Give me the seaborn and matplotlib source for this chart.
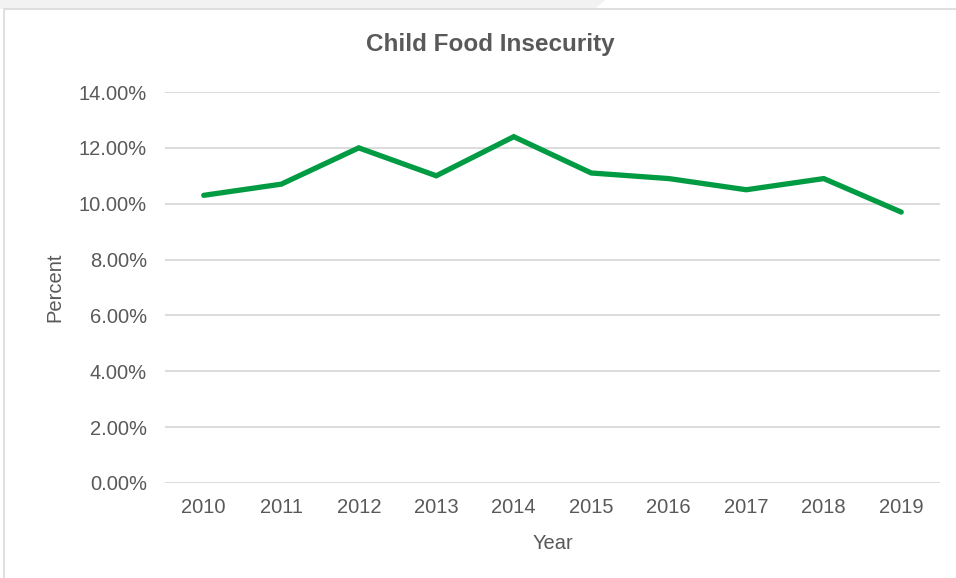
import matplotlib
matplotlib.use("Agg")
import matplotlib.pyplot as plt
import matplotlib.patches as mpatches
from matplotlib.ticker import PercentFormatter
import pandas as pd
import seaborn as sns

# Chart data
years = [2010, 2011, 2012, 2013, 2014, 2015, 2016, 2017, 2018, 2019]
insecurity = [10.3, 10.7, 12.0, 11.0, 12.4, 11.1, 10.9, 10.5, 10.9, 9.7]
y_ticks = [0, 2, 4, 6, 8, 10, 12, 14]


def build_frame():
    return pd.DataFrame({"Year": years, "Percent": [v / 100 for v in insecurity]})


def draw(data):
    sns.set_style("white")
    plt.rcParams["font.family"] = ["Liberation Sans", "DejaVu Sans"]
    grey = "#595959"

    fig = plt.figure(figsize=(9.56, 5.78), dpi=100)
    W, H = 956, 578

    # light grey strip and chart border like the Excel frame
    fig.patches.append(mpatches.Polygon(
        [(0, 1), (605 / W, 1), (595 / W, 1 - 9 / H), (0, 1 - 9 / H)],
        closed=True, transform=fig.transFigure, facecolor="#f2f2f2", edgecolor="none", zorder=0))
    fig.patches.append(mpatches.Rectangle(
        (4 / W, -0.1), 1.2, 1.1 - 9 / H, transform=fig.transFigure,
        facecolor="white", edgecolor="#d9d9d9", linewidth=1.2, zorder=1))

    ax = fig.add_axes([165 / W, 1 - 483 / H, 775 / W, 391 / H])
    ax.set_facecolor("none")
    ax.set_zorder(2)

    sns.lineplot(data=data, x="Year", y="Percent", ax=ax, color="#009B42",
                 linewidth=3.8, solid_capstyle="round", solid_joinstyle="miter")

    ax.set_xlim(years[0] - 0.5, years[-1] + 0.5)
    ax.set_ylim(0, 0.14)
    ax.set_xticks(years)
    ax.set_yticks([t / 100 for t in y_ticks])
    ax.yaxis.set_major_formatter(PercentFormatter(1.0, decimals=2))
    ax.grid(axis="y", color="#d9d9d9", linewidth=1.3)
    ax.set_axisbelow(True)
    for s in ax.spines.values():
        s.set_visible(False)
    ax.tick_params(axis="both", length=0, labelsize=14.5, labelcolor=grey)
    ax.tick_params(axis="y", pad=13)
    ax.tick_params(axis="x", pad=11)

    ax.set_xlabel("Year", fontsize=14.5, color=grey, labelpad=12)
    ax.set_ylabel("Percent", fontsize=14.5, color=grey, labelpad=10)
    fig.text(490 / W, 1 - 45 / H, "Child Food Insecurity", fontsize=17.5,
             fontweight="bold", color=grey, ha="center", va="center")

    fig.savefig("out.png", dpi=100)


if __name__ == "__main__":
    draw(build_frame())
